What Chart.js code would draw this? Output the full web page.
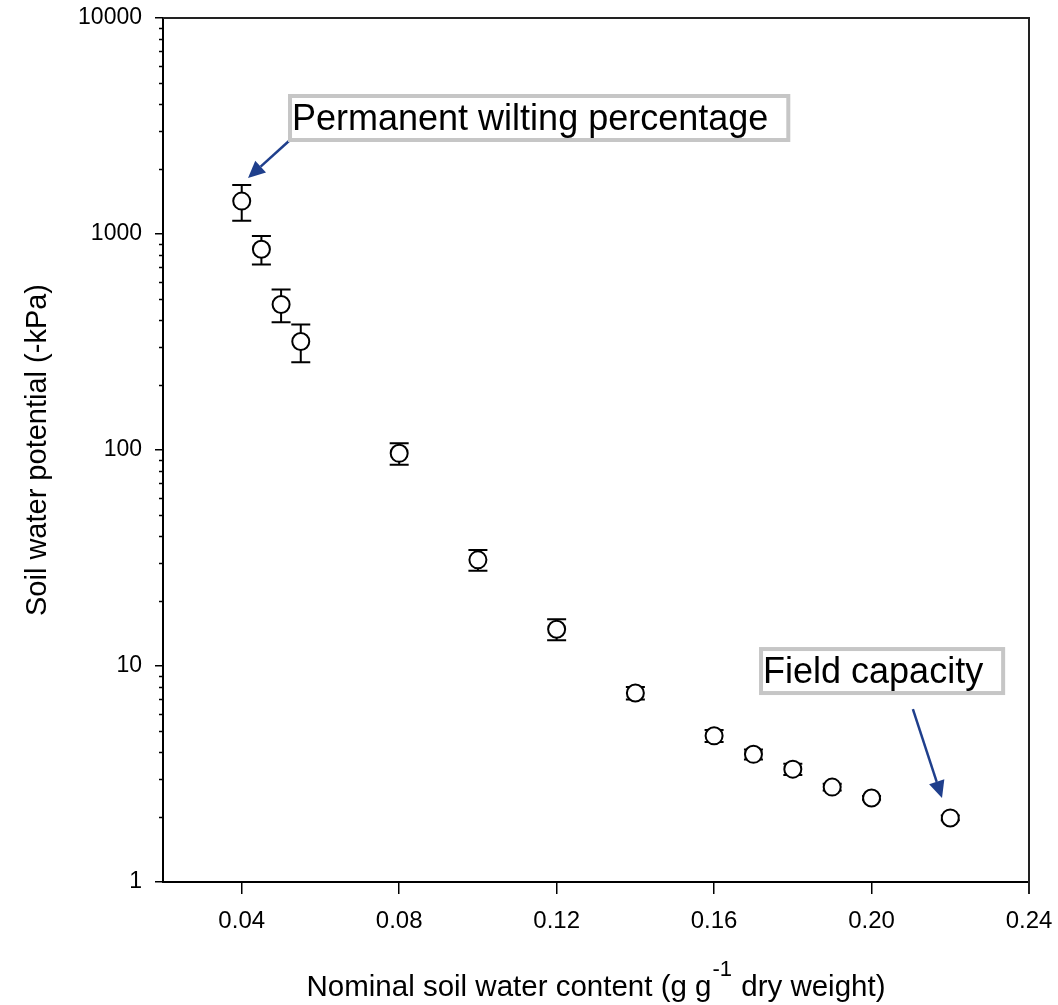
<!DOCTYPE html>
<html>
<head>
<meta charset="utf-8">
<script src="https://cdn.jsdelivr.net/npm/chart.js@4"></script>
<style>
  html, body { margin: 0; padding: 0; background: #fff; }
  #wrap { width: 1058px; height: 1005px; }
</style>
</head>
<body>
<div id="wrap"><canvas id="chart"></canvas></div>
<script>
// soil water retention data
const waterContent = [0.04, 0.045, 0.05, 0.055, 0.08, 0.10, 0.12, 0.14, 0.16, 0.17, 0.18, 0.19, 0.20, 0.22];
const potential = [1420, 850, 472, 318, 96.5, 31, 14.8, 7.5, 4.75, 3.9, 3.33, 2.75, 2.45, 1.98];
const potentialErr = [268, 128, 82, 63, 11, 3.4, 1.65, 0.5, 0.3, 0.21, 0.2, 0.1, 0.05, 0.05];

const xTickValues = [0.04, 0.08, 0.12, 0.16, 0.20, 0.24];
const yTickValues = [1, 10, 100, 1000, 10000];

const FONT = "'Liberation Sans', Arial, sans-serif";
const ARROW = '#1f3f8c';

// annotation boxes (anchor = top-left corner, data coords) and arrows
const labels = [
    { text: 'Permanent wilting percentage', x: 0.05176, y: 4448 },
    { text: 'Field capacity', x: 0.17142, y: 12.24 },
];
const arrows = [
    { from: [0.05227, 2723], to: [0.0416, 1816] },
    { from: [0.2105, 6.32], to: [0.2179, 2.45] },
];

// no tick-label overhang, so the plot box sits exactly where the layout padding puts it
const noOverhang = (s) => {
    s.paddingLeft = 0; s.paddingRight = 0; s.paddingTop = 0; s.paddingBottom = 0;
};

const errorBars = {
    id: 'errorBars',
    beforeDatasetsDraw(chart) {
        const { ctx, scales: { x, y } } = chart;
        ctx.save();
        ctx.strokeStyle = '#000';
        ctx.lineWidth = 2;
        waterContent.forEach((wc, i) => {
            const px = x.getPixelForValue(wc);
            const top = y.getPixelForValue(potential[i] + potentialErr[i]);
            const bot = y.getPixelForValue(potential[i] - potentialErr[i]);
            ctx.beginPath();
            ctx.moveTo(px, top); ctx.lineTo(px, bot);
            ctx.moveTo(px - 9.5, top); ctx.lineTo(px + 9.5, top);
            ctx.moveTo(px - 9.5, bot); ctx.lineTo(px + 9.5, bot);
            ctx.stroke();
        });
        ctx.restore();
    }
};

const extras = {
    id: 'extras',
    afterDraw(chart) {
        const { ctx, chartArea: a, scales: { x, y } } = chart;
        ctx.save();

        // top and right frame
        ctx.strokeStyle = '#222';
        ctx.lineWidth = 2;
        ctx.beginPath();
        ctx.moveTo(a.left, a.top);
        ctx.lineTo(a.right, a.top);
        ctx.lineTo(a.right, a.bottom + 12);
        ctx.stroke();

        // minor log ticks
        ctx.strokeStyle = '#000';
        ctx.lineWidth = 1.5;
        ctx.beginPath();
        for (let d = 1; d < 10000; d *= 10) {
            for (let k = 2; k <= 9; k++) {
                const py = Math.round(y.getPixelForValue(k * d)) + 0.5;
                ctx.moveTo(a.left - 4, py);
                ctx.lineTo(a.left, py);
            }
        }
        ctx.stroke();

        // x axis title with superscript
        const main1 = 'Nominal soil water content (g g';
        const sup = '-1';
        const main2 = ' dry weight)';
        ctx.fillStyle = '#000';
        ctx.textBaseline = 'alphabetic';
        ctx.font = '29.5px ' + FONT;
        const w1 = ctx.measureText(main1).width;
        const w3 = ctx.measureText(main2).width;
        ctx.font = '22px ' + FONT;
        const w2 = ctx.measureText(sup).width;
        let tx = (a.left + a.right) / 2 - (w1 + w2 + w3 + 2) / 2;
        const base = 996;
        ctx.font = '29.5px ' + FONT;
        ctx.fillText(main1, tx, base);
        ctx.font = '22px ' + FONT;
        ctx.fillText(sup, tx + w1 + 1, base - 20);
        ctx.font = '29.5px ' + FONT;
        ctx.fillText(main2, tx + w1 + w2 + 2, base);

        // arrows
        ctx.strokeStyle = ARROW;
        ctx.fillStyle = ARROW;
        ctx.lineWidth = 2.5;
        arrows.forEach(ar => {
            const x0 = x.getPixelForValue(ar.from[0]), y0 = y.getPixelForValue(ar.from[1]);
            const x1 = x.getPixelForValue(ar.to[0]), y1 = y.getPixelForValue(ar.to[1]);
            const ang = Math.atan2(y1 - y0, x1 - x0);
            const hl = 17, hw = 8;
            const bx = x1 - hl * Math.cos(ang), by = y1 - hl * Math.sin(ang);
            ctx.beginPath();
            ctx.moveTo(x0, y0); ctx.lineTo(bx, by);
            ctx.stroke();
            ctx.beginPath();
            ctx.moveTo(x1, y1);
            ctx.lineTo(bx + hw * Math.sin(ang), by - hw * Math.cos(ang));
            ctx.lineTo(bx - hw * Math.sin(ang), by + hw * Math.cos(ang));
            ctx.closePath();
            ctx.fill();
        });

        // label boxes
        ctx.font = '36px ' + FONT;
        labels.forEach(lb => {
            const bx = x.getPixelForValue(lb.x), by = y.getPixelForValue(lb.y);
            const tw = ctx.measureText(lb.text).width;
            const bw = tw + 26, bh = 48;
            ctx.fillStyle = '#fff';
            ctx.fillRect(bx, by, bw, bh);
            ctx.strokeStyle = '#c6c6c6';
            ctx.lineWidth = 4;
            ctx.strokeRect(bx + 2, by + 2, bw - 4, bh - 4);
            ctx.fillStyle = '#000';
            ctx.fillText(lb.text, bx + 4, by + 36);
        });

        ctx.restore();
    }
};

const myChart = new Chart(document.getElementById('chart').getContext('2d'), {
    type: 'scatter',
    data: {
        datasets: [
            {
                data: waterContent.map((wc, i) => ({ x: wc, y: potential[i] })),
                pointRadius: 8.5,
                pointHoverRadius: 8.5,
                borderWidth: 2,
                borderColor: '#000',
                backgroundColor: '#fff',
                showLine: false,
            },
        ],
    },
    options: {
        responsive: true,
        maintainAspectRatio: false,
        animation: false,
        layout: { padding: { left: 0, top: 18, right: 29, bottom: 0 } },
        plugins: {
            legend: { display: false },
            tooltip: { enabled: false },
        },
        scales: {
            x: {
                type: 'linear',
                min: 0.02,
                max: 0.24,
                afterBuildTicks: (s) => { s.ticks = xTickValues.map(v => ({ value: v })); },
                afterFit: (s) => { s.height = 123; noOverhang(s); },
                border: { color: '#000', width: 2 },
                grid: { drawOnChartArea: false, drawTicks: true, tickLength: 12, color: '#000', lineWidth: 1.5 },
                ticks: {
                    color: '#000',
                    font: { family: FONT, size: 24 },
                    padding: 13,
                    maxRotation: 0,
                    autoSkip: false,
                    callback: (v) => Number(v).toFixed(2),
                },
            },
            y: {
                type: 'logarithmic',
                min: 1,
                max: 10000,
                afterBuildTicks: (s) => { s.ticks = yTickValues.map(v => ({ value: v })); },
                afterFit: (s) => { s.width = 163; noOverhang(s); },
                border: { color: '#000', width: 2 },
                grid: { drawOnChartArea: false, drawTicks: true, tickLength: 8, color: '#000', lineWidth: 1.5 },
                ticks: {
                    color: '#000',
                    font: { family: FONT, size: 23 },
                    padding: 13,
                    autoSkip: false,
                    callback: (v) => String(v),
                },
                title: {
                    display: true,
                    text: 'Soil water potential (-kPa)',
                    color: '#000',
                    font: { family: FONT, size: 29 },
                    padding: { top: 21, bottom: 0 },
                },
            },
        },
    },
    plugins: [errorBars, extras],
});
</script>
</body>
</html>
